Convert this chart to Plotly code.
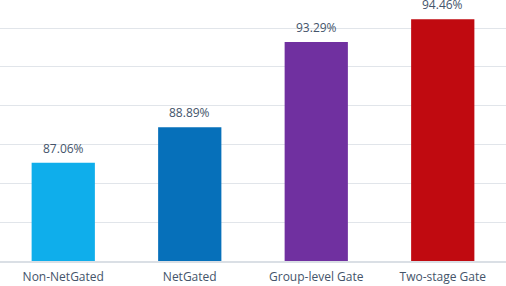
import plotly.graph_objects as go

categories = ["Non-NetGated", "NetGated", "Group-level Gate", "Two-stage Gate"]
values = [87.06, 88.89, 93.29, 94.46]
labels = ["87.06%", "88.89%", "93.29%", "94.46%"]
colors = ["#0FAEEB", "#0670BA", "#7030A0", "#C00A10"]

fig = go.Figure(go.Bar(
    x=categories, y=values, marker_color=colors, width=0.5,
    marker_line_width=0, hoverinfo="skip",
))
for c, v, t in zip(categories, values, labels):
    fig.add_annotation(x=c, y=v, text=t, showarrow=False, yanchor="bottom",
                       yshift=4, font=dict(size=12, color="#44546A"))

fig.update_layout(
    width=506, height=286,
    margin=dict(l=0, r=0, t=0, b=25, autoexpand=False),
    paper_bgcolor="white", plot_bgcolor="white",
    font=dict(family="Open Sans", size=12, color="#44546A"),
    showlegend=False, bargap=0.5,
)
fig.update_yaxes(range=[82, 95.45], dtick=2, tick0=82, showticklabels=False,
                 gridcolor="#E1E5EA", gridwidth=1, zeroline=False,
                 showline=False, fixedrange=True, automargin=False)
fig.update_xaxes(showline=True, linecolor="#DADFE5", linewidth=2,
                 ticks="", automargin=False, ticklabelstandoff=4,
                 tickfont=dict(size=12, color="#44546A"))
fig.write_html(
    "out.html",
    config={"displayModeBar": False},
    post_script="document.body.style.margin='0px';document.body.style.overflow='hidden';",
)
